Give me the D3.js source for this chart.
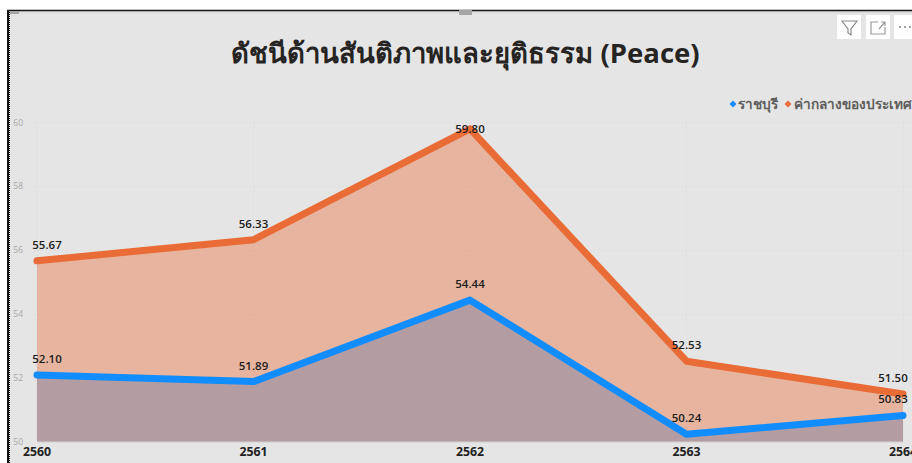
<!DOCTYPE html>
<html>
<head>
<meta charset="utf-8">
<script src="https://cdn.jsdelivr.net/npm/d3@7"></script>
<style>
  html, body { margin: 0; padding: 0; background: #fff; overflow: hidden; }
  text { font-family: "Open Sans", "Noto Sans", "DejaVu Sans", sans-serif; }
</style>
</head>
<body>
<div id="chart"></div>
<script>
const years = ["2560", "2561", "2562", "2563", "2564"];
const ratchaburi = [52.10, 51.89, 54.44, 50.24, 50.83];
const national = [55.67, 56.33, 59.80, 52.53, 51.50];
const yTicks = [50, 52, 54, 56, 58, 60];
const titleText = "ดัชนีด้านสันติภาพและยุติธรรม (Peace)";
const legendNames = ["ราชบุรี", "ค่ากลางของประเทศ"];

const width = 912, height = 463;
const blue = "#118DFF", orange = "#E96C36";

const svg = d3.select("#chart").append("svg")
    .attr("width", width)
    .attr("height", height)
    .style("display", "block");

// panel and black frame
svg.append("rect").attr("x", 8).attr("y", 10).attr("width", 910).attr("height", 460).attr("fill", "#E5E5E5");
svg.append("line").attr("x1", 10).attr("x2", 912).attr("y1", 12.5).attr("y2", 12.5).attr("stroke", "#d8d8d8");
svg.append("line").attr("x1", 7).attr("x2", 912).attr("y1", 10.5).attr("y2", 10.5).attr("stroke", "#111").attr("stroke-width", 1.5);
svg.append("line").attr("x1", 8).attr("x2", 8).attr("y1", 10).attr("y2", 463).attr("stroke", "#111").attr("stroke-width", 2);
svg.append("line").attr("x1", 9.5).attr("x2", 9.5).attr("y1", 12).attr("y2", 463).attr("stroke", "#111").attr("stroke-dasharray", "1 1");
// resize handles on the visual
svg.append("rect").attr("x", 10).attr("y", 11).attr("width", 9).attr("height", 3).attr("fill", "#a5a5a5");
svg.append("rect").attr("x", 459).attr("y", 10).attr("width", 13).attr("height", 5).attr("fill", "#a5a5a5");

const x = d3.scalePoint().domain(years).range([37, 903]);
const y = d3.scaleLinear().domain([50, 60]).range([442, 122.5]);

// gridlines
svg.append("g").selectAll("line").data(yTicks.slice(1)).join("line")
    .attr("x1", 30).attr("x2", 912)
    .attr("y1", d => y(d)).attr("y2", d => y(d))
    .attr("stroke", "#d6d6d6").attr("stroke-dasharray", "1 3");
svg.append("g").selectAll("line").data(years).join("line")
    .attr("x1", d => x(d)).attr("x2", d => x(d))
    .attr("y1", y(60)).attr("y2", y(50))
    .attr("stroke", "#d6d6d6").attr("stroke-dasharray", "1 3");

// y axis labels
svg.append("g").selectAll("text").data(yTicks).join("text")
    .attr("x", 23).attr("y", d => y(d) + 3)
    .attr("text-anchor", "end")
    .attr("font-size", 8.5)
    .attr("fill", "#a8a8a8")
    .text(d => d);

const area = d3.area().x((d, i) => x(years[i])).y0(y(50)).y1(d => y(d));
const line = d3.line().x((d, i) => x(years[i])).y(d => y(d));

svg.append("path").attr("d", area(national)).attr("fill", orange).attr("fill-opacity", 0.4);
svg.append("path").attr("d", area(ratchaburi)).attr("fill", "#7F85A6").attr("fill-opacity", 0.5);
svg.append("line").attr("x1", 37).attr("x2", 903).attr("y1", y(50)).attr("y2", y(50)).attr("stroke", "#d0d0d0");

[[national, orange], [ratchaburi, blue]].forEach(([vals, color]) => {
  svg.append("path").attr("d", line(vals))
      .attr("fill", "none").attr("stroke", color)
      .attr("stroke-width", 7)
      .attr("stroke-linejoin", "round").attr("stroke-linecap", "round");
});

// data labels, kept inside the plot area like Power BI does
[national, ratchaburi].forEach(vals => {
  svg.append("g").selectAll("text").data(vals).join("text")
      .attr("x", (d, i) => Math.max(47, Math.min(x(years[i]), 893)))
      .attr("y", d => Math.max(y(d) - 12, y(60) + 10.5))
      .attr("text-anchor", "middle")
      .attr("font-size", 11.5)
      .attr("font-weight", 600)
      .attr("fill", "#1c1c1c")
      .text(d => d.toFixed(2));
});

// x axis labels
svg.append("g").selectAll("text").data(years).join("text")
    .attr("x", d => x(d)).attr("y", 456)
    .attr("text-anchor", "middle")
    .attr("font-size", 12.3)
    .attr("font-weight", 700)
    .attr("fill", "#222")
    .text(d => d);

// title
svg.append("text").attr("x", 465.5).attr("y", 63)
    .attr("text-anchor", "middle")
    .attr("font-size", 27.5)
    .attr("font-weight", 700)
    .attr("fill", "#252423")
    .text(titleText);

// legend
const diamond = d3.symbol().type(d3.symbolSquare).size(24);
svg.append("path").attr("d", diamond).attr("transform", "translate(733,104) rotate(45)").attr("fill", blue);
svg.append("path").attr("d", diamond).attr("transform", "translate(788,104) rotate(45)").attr("fill", orange);
svg.append("text").attr("x", 738).attr("y", 109).attr("font-size", 13.6).attr("font-weight", 600).attr("fill", "#605E5C").text(legendNames[0]);
svg.append("text").attr("x", 794).attr("y", 109).attr("font-size", 13.6).attr("font-weight", 600).attr("fill", "#605E5C").text(legendNames[1]);

// header icons
[[837, 24], [866, 24], [894, 24]].forEach(([bx, bw]) => {
  svg.append("rect").attr("x", bx).attr("y", 15).attr("width", bw).attr("height", 24).attr("fill", "#fff");
});
svg.append("path").attr("d", "M842 21H857L851 29V35L848 33V29Z").attr("fill", "none").attr("stroke", "#8a8a8a").attr("stroke-width", 1.2);
svg.append("path").attr("d", "M878 22H871V34H885V27M879 29L885 22M881 22H885V26").attr("fill", "none").attr("stroke", "#9a9a9a").attr("stroke-width", 1.2);
svg.append("g").selectAll("circle").data([0, 1, 2]).join("circle")
    .attr("cx", d => 900 + d * 5).attr("cy", 27).attr("r", 0.9).attr("fill", "#777");
</script>
</body>
</html>
